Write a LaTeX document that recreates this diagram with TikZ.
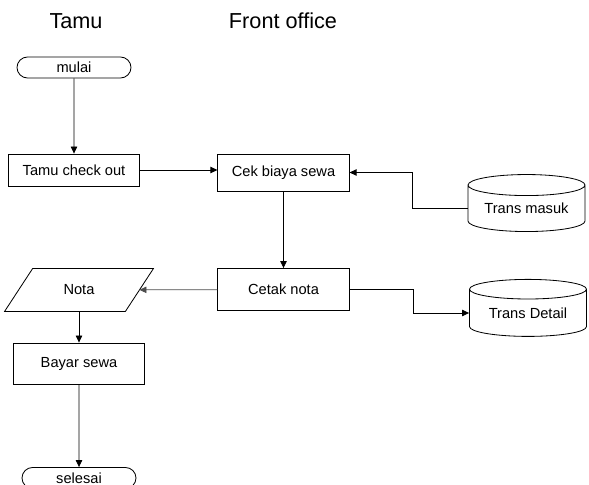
\documentclass[tikz,border=0pt]{standalone}
\usepackage{fontspec}
\setmainfont{Liberation Sans}
\usetikzlibrary{shapes.geometric,shapes.misc,arrows.meta}

\begin{document}
\begin{tikzpicture}[x=0.03cm,y=-0.03cm,line width=0.7pt,>={Triangle[length=6pt,width=5.5pt]},
  proses/.style={draw,rectangle,minimum width=3.94cm,inner sep=0pt,font=\fontsize{12.5}{15}\selectfont},
  terminal/.style={draw,rounded rectangle,minimum width=3.42cm,minimum height=0.63cm,inner sep=0pt,font=\fontsize{12.5}{15}\selectfont},
  datastore/.style={draw,cylinder,shape border rotate=90,aspect=0.25,minimum width=3.51cm,minimum height=1.71cm,inner sep=0pt,font=\fontsize{12.5}{15}\selectfont},
  dokumen/.style={rectangle,minimum width=3.6cm,minimum height=1.26cm,inner sep=0pt,font=\fontsize{12.5}{15}\selectfont},
  judul/.style={font=\fontsize{18.5}{22}\selectfont}]
\useasboundingbox (0,0) rectangle (589,485);

\node[judul] (lanetamu) at (76,21) {Tamu};
\node[judul] (lanefo) at (283,21) {Front office};

\node[terminal] (mulai) at (74,67.5) {mulai};
\node[proses,minimum height=0.96cm] (checkout) at (74,170) {Tamu check out};
\node[proses,minimum height=1.11cm] (cekbiaya) at (283.5,172.5) {Cek biaya sewa};
\node[datastore] (transmasuk) at (526.5,208.5) {Trans masuk};
\node[proses,minimum height=1.26cm] (cetaknota) at (283.5,289.5) {Cetak nota};
\node[dokumen] (nota) at (79,290) {Nota};
\node[datastore] (transdetail) at (528,313) {Trans Detail};
\node[proses,minimum height=1.23cm] (bayarsewa) at (79,363.5) {Bayar sewa};
\node[terminal] (selesai) at (79,478) {selesai};

% jajaran genjang untuk dokumen
\draw ([shift={(-14,0)}]nota.south west) -- ([shift={(-14,0)}]nota.south east)
  -- ([shift={(14,0)}]nota.north east) -- ([shift={(14,0)}]nota.north west) -- cycle;

\draw[->] (mulai) -- (checkout);
\draw[->] (checkout) -- (cekbiaya.west |- checkout);
\draw[->] (transmasuk.west) -- ++(-55,0) |- (cekbiaya.east);
\draw[->] (cekbiaya) -- (cetaknota);
\draw[->,gray!60!black] (cetaknota) -- (nota);
\draw[->] (cetaknota.east) -- ++(64,0) |- (transdetail.west);
\draw[->] (nota) -- (bayarsewa);
\draw[->] (bayarsewa) -- (selesai);

\end{tikzpicture}
\end{document}
